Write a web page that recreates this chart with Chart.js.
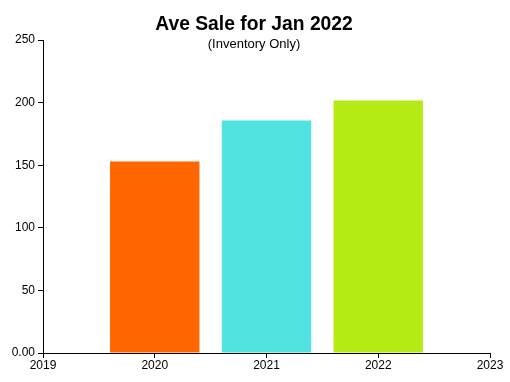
<!DOCTYPE html>
<html><head><meta charset="utf-8">
<script src="https://cdn.jsdelivr.net/npm/chart.js@4"></script>
<style>html,body{margin:0;padding:0;background:#fff}#wrap{width:510px;height:382px}</style>
</head><body><div id="wrap"><canvas id="c" width="510" height="382"></canvas></div>
<script>
const titleText = "Ave Sale for Jan 2022";
const subtitleText = "(Inventory Only)";
const years = [2020, 2021, 2022];
const values = [153, 185.7, 201.7];
const barColors = ["#FF6600", "#50E3E0", "#B4EB14"];
const xMin = 2019, xMax = 2023;
const yTicks = [0, 50, 100, 150, 200, 250];

const titlePlugin = {
  id: 'overlayTitle',
  afterDraw(chart) {
    const ctx = chart.ctx;
    ctx.save();
    ctx.fillStyle = '#000';
    ctx.textAlign = 'center';
    ctx.textBaseline = 'alphabetic';
    ctx.font = 'bold 19.3px "Liberation Sans", Arial, sans-serif';
    ctx.fillText(titleText, 254, 30);
    ctx.font = '13px "Liberation Sans", Arial, sans-serif';
    ctx.fillText(subtitleText, 254, 48);
    ctx.restore();
  }
};

new Chart(document.getElementById('c'), {
  type: 'bar',
  data: {
    datasets: [{
      data: years.map((y, i) => ({x: y, y: values[i]})),
      backgroundColor: barColors,
      borderWidth: 0,
      barPercentage: 1,
      categoryPercentage: 0.8
    }]
  },
  options: {
    responsive: false,
    animation: false,
    layout: {padding: {top: 40, right: 20, left: 0, bottom: 0}},
    plugins: {legend: {display: false}, tooltip: {enabled: false}, title: {display: false}},
    scales: {
      x: {
        type: 'linear', min: xMin, max: xMax, offset: false,
        grid: {offset: false, drawOnChartArea: false, drawTicks: true, tickLength: 5, color: '#000'},
        border: {display: true, color: '#000', width: 1},
        ticks: {stepSize: 1, padding: 0, color: '#000', maxRotation: 0,
          font: {family: '"Liberation Sans", Arial, sans-serif', size: 12},
          callback: v => String(v)},
        afterFit: s => { s.height = 29; }
      },
      y: {
        min: 0, max: 250,
        grid: {drawOnChartArea: false, drawTicks: true, tickLength: 5, color: '#000'},
        border: {display: true, color: '#000', width: 1},
        ticks: {stepSize: 50, padding: 3, color: '#000',
          font: {family: '"Liberation Sans", Arial, sans-serif', size: 12},
          callback: v => v === 0 ? '0.00' : String(v)},
        afterFit: s => { s.width = 43; }
      }
    }
  },
  plugins: [titlePlugin]
});
</script></body></html>
